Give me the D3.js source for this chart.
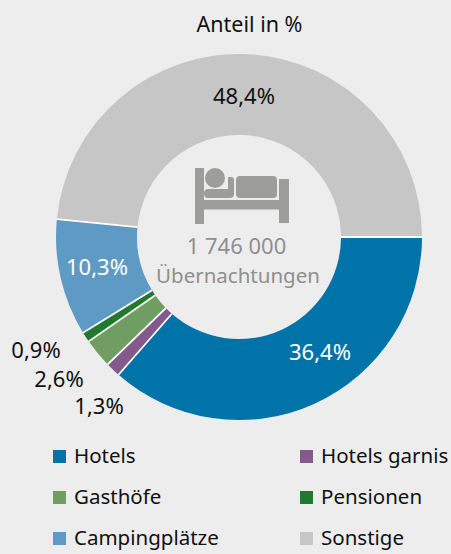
<!DOCTYPE html>
<html lang="de">
<head>
<meta charset="UTF-8">
<title>Anteil in %</title>
<style>
html,body{margin:0;padding:0;background:#ededed;}
svg{display:block;}
text{font-family:"Noto Sans",sans-serif;}
</style>
</head>
<body>
<script src="https://d3js.org/d3.v7.min.js"></script>
<script>
var categories = ["Hotels","Hotels garnis","Gasthöfe","Pensionen","Campingplätze","Sonstige"];
var values = [36.4,1.3,2.6,0.9,10.3,48.4];
var valueLabels = ["36,4%","1,3%","2,6%","0,9%","10,3%","48,4%"];
var colors = ["#0073a8","#845a8c","#6f9d62","#21792d","#5f9ac4","#c6c6c6"];
var labelColors = ["#fff","#111","#111","#111","#fff","#111"];
// label positions, picked by hand for the small slices
var labelPos = [[320,353],[99,407],[59,380],[36,351],[97,268],[244,97]];

var width = 451, height = 554;
var cx = 239, cy = 237, outer = 183, inner = 102;

var svg = d3.select("body").append("svg")
	.attr("width",width).attr("height",height);

svg.append("text").attr("x",249.500).attr("y",32).attr("text-anchor","middle")
	.attr("font-size",21.500).attr("fill","#111").text("Anteil in %");

var pie = d3.pie().sort(null).startAngle(Math.PI/2).endAngle(Math.PI*2.5);
var arc = d3.arc().innerRadius(inner).outerRadius(outer);
var slices = pie(values);

var ring = svg.append("g").attr("transform","translate("+cx+","+cy+")");
ring.selectAll("path").data(slices).enter().append("path")
	.attr("d",arc)
	.attr("fill",function(d,i){return colors[i];});

// white separators only between slices, no rim
var radial = d3.lineRadial();
ring.selectAll("path.sep").data(slices).enter().append("path")
	.attr("class","sep")
	.attr("d",function(d){return radial([[d.startAngle,inner],[d.startAngle,outer]]);})
	.attr("fill","none").attr("stroke","#fff").attr("stroke-width",1.8);

svg.append("g").selectAll("text").data(valueLabels).enter().append("text")
	.attr("x",function(d,i){return labelPos[i][0];})
	.attr("y",function(d,i){return labelPos[i][1]+7;})
	.attr("text-anchor","middle")
	.attr("font-size",22)
	.attr("fill",function(d,i){return labelColors[i];})
	.text(function(d){return d;});

// bed icon
var bed = svg.append("g").attr("fill","#9d9d9c");
bed.append("rect").attr("x",195).attr("y",168).attr("width",9).attr("height",56);
bed.append("rect").attr("x",279).attr("y",179).attr("width",10).attr("height",44);
bed.append("rect").attr("x",195).attr("y",200).attr("width",94).attr("height",9.5);
bed.append("circle").attr("cx",215).attr("cy",178).attr("r",10);
bed.append("rect").attr("x",236).attr("y",176).attr("width",41).attr("height",22).attr("rx",4);
bed.append("path").attr("d","M208 189h20v-12h3q3 0 3 3v14q0 4-4 4h-22q-4 0-4-4.500t4-4.500z");

svg.append("text").attr("x",236.500).attr("y",254).attr("text-anchor","middle")
	.attr("font-size",22).attr("fill","#8f8f8f").text("1 746 000");
svg.append("text").attr("x",238).attr("y",283).attr("text-anchor","middle")
	.attr("font-size",20.500).attr("fill","#8f8f8f").text("Übernachtungen");

// legend
var legendX = [53,300,53,300,53,300];
var legendY = [457,457,498,498,539,539];
var lg = svg.append("g").selectAll("g").data(categories).enter().append("g")
	.attr("transform",function(d,i){return "translate("+legendX[i]+","+legendY[i]+")";});
lg.append("rect").attr("x",0).attr("y",-7).attr("width",13).attr("height",13)
	.attr("fill",function(d,i){return colors[i];});
lg.append("text").attr("x",21).attr("y",6).attr("font-size",20.500).attr("fill","#111")
	.text(function(d){return d;});
</script>
</body>
</html>
